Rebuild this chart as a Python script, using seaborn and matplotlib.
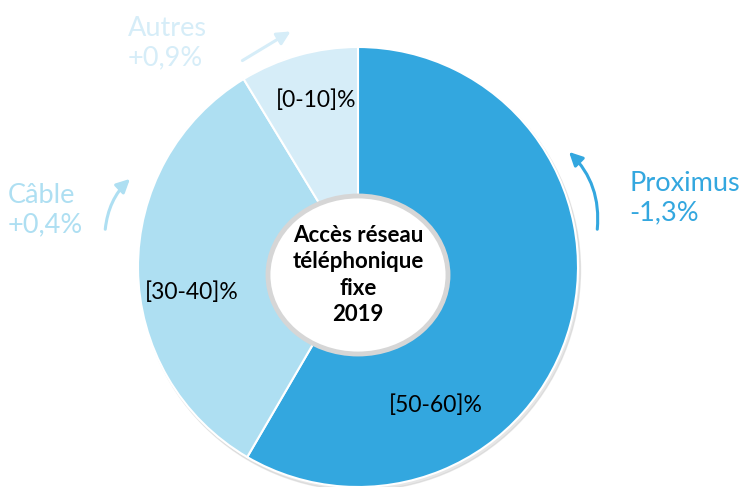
import matplotlib
matplotlib.use('Agg')
import matplotlib.pyplot as plt
import seaborn as sns
from matplotlib.patches import Ellipse, FancyArrowPatch, Circle

sns.set_theme(style='white')
plt.rcParams['font.family'] = ['Lato', 'DejaVu Sans']

operators = ['Proximus', 'Câble', 'Autres']
shares = [58.4, 32.9, 8.7]
share_labels = ['[50-60]%', '[30-40]%', '[0-10]%']
evolution = ['-1,3%', '+0,4%', '+0,9%']
colors = ['#33A7DF', '#AEDFF2', '#D6EDF8']
center_title = 'Accès réseau\ntéléphonique\nfixe\n2019'

W, H = 742, 487
fig = plt.figure(figsize=(W / 100, H / 100), dpi=100)
ax = fig.add_axes([0, 0, 1, 1])

cx, cy, r = 358, H - 267, 220

# soft shadow behind the pie
ax.add_patch(Circle((cx + 2, cy - 3), r + 0.5, color='#C8C8C8', alpha=0.45, zorder=0))

ax.pie(shares, colors=colors, startangle=90, counterclock=False,
       center=(cx, cy), radius=r, frame=True,
       wedgeprops=dict(edgecolor='white', linewidth=1.5))
ax.set_xlim(0, W)
ax.set_ylim(0, H)
ax.set_aspect('equal')
ax.axis('off')

# slice labels
label_pos = {'Proximus': (436, 405), 'Câble': (192, 292), 'Autres': (316, 100)}
for name, lab in zip(operators, share_labels):
    x, y = label_pos[name]
    ax.text(x, H - y, lab, ha='center', va='center', fontsize=16.5, color='black', zorder=5)

# center badge
ax.add_patch(Ellipse((cx, H - 275), 180, 158, facecolor='white',
                     edgecolor='#D6D6D6', linewidth=3.5, zorder=4))
ax.text(cx, H - 275, center_title, ha='center', va='center', fontsize=16,
        fontweight='bold', color='black', linespacing=1.33, zorder=5)

# outer labels with evolution
outer_pos = {'Proximus': (629, 198), 'Câble': (8, 210), 'Autres': (128, 43)}
for name, ev, col in zip(operators, evolution, colors):
    x, y = outer_pos[name]
    ax.text(x, H - y, name + '\n' + ev, ha='left', va='center', fontsize=19.5,
            color=col, linespacing=1.2)

arrows = [
    ((597, 232), (567, 150), 0.25, colors[0]),
    ((105, 232), (132, 177), -0.2, colors[1]),
    ((240, 62), (293, 30), 0.0, colors[2]),
]
for (x0, y0), (x1, y1), rad, col in arrows:
    ax.add_patch(FancyArrowPatch((x0, H - y0), (x1, H - y1),
                                 connectionstyle=f'arc3,rad={rad}',
                                 arrowstyle='-|>,head_length=8,head_width=4',
                                 color=col, linewidth=2.2, zorder=3))

fig.savefig('out.png', dpi=100)
